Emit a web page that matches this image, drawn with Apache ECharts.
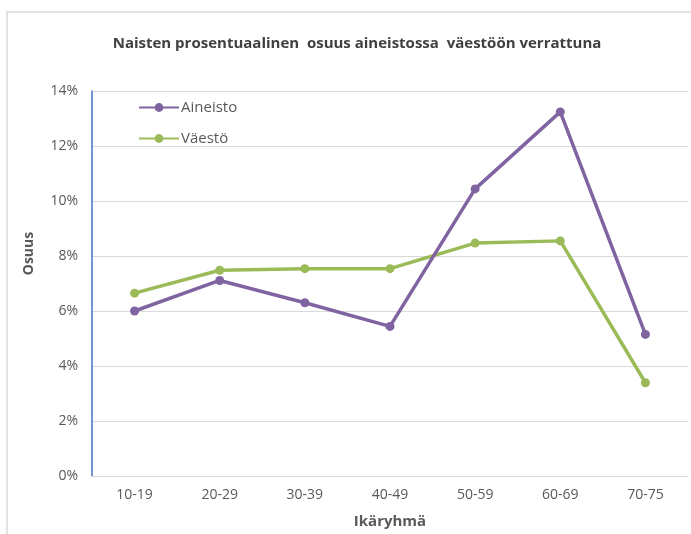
<!DOCTYPE html>
<html>
<head>
<meta charset="utf-8">
<script src="https://cdn.jsdelivr.net/npm/echarts@6/dist/echarts.min.js"></script>
<style>
  html, body { margin: 0; padding: 0; background: #ffffff; }
  #chart { width: 691px; height: 534px; }
</style>
</head>
<body>
<div id="chart"></div>
<script>
// Age groups and shares (%) of women: study material vs. population
var ageGroups = ['10-19', '20-29', '30-39', '40-49', '50-59', '60-69', '70-75'];
var aineisto = [6.0, 7.11, 6.3, 5.44, 10.44, 13.24, 5.15];
var vaesto = [6.65, 7.48, 7.54, 7.54, 8.47, 8.55, 3.39];
var yTicks = [0, 2, 4, 6, 8, 10, 12, 14];

var FONT = '"Open Sans", "Noto Sans", sans-serif';
var PURPLE = '#8064A2';
var GREEN = '#9BBB59';

var chart = echarts.init(document.getElementById('chart'), null, { renderer: 'canvas' });

chart.setOption({
  backgroundColor: '#ffffff',
  animation: false,
  textStyle: { fontFamily: FONT },
  graphic: [
    {
      type: 'rect',
      shape: { x: 7, y: 12, width: 800, height: 700 },
      style: { fill: 'none', stroke: '#D9D9D9', lineWidth: 1.5 },
      silent: true
    }
  ],
  title: {
    text: 'Naisten prosentuaalinen  osuus aineistossa  väestöön verrattuna',
    left: 352,
    textAlign: 'center',
    top: 31,
    textStyle: { fontFamily: FONT, fontSize: 15, fontWeight: 'bold', color: '#404040' }
  },
  legend: {
    orient: 'vertical',
    left: 133,
    top: 95,
    itemWidth: 40,
    itemHeight: 11,
    itemGap: 16,
    textStyle: { fontFamily: FONT, fontSize: 15, color: '#595959', padding: [0, 0, 0, -3] },
    data: ['Aineisto', 'Väestö']
  },
  grid: { left: 92, right: 3, top: 91, bottom: 56, containLabel: false },
  xAxis: {
    type: 'category',
    data: ageGroups,
    boundaryGap: true,
    name: 'Ikäryhmä',
    nameLocation: 'middle',
    nameGap: 38,
    nameTextStyle: { fontFamily: FONT, fontSize: 15, fontWeight: 'bold', color: '#595959' },
    axisLine: { show: true, lineStyle: { color: '#D9D9D9', width: 1 } },
    axisTick: { show: false },
    axisLabel: { fontFamily: FONT, fontSize: 14, color: '#595959', margin: 12 }
  },
  yAxis: {
    type: 'value',
    min: yTicks[0],
    max: yTicks[yTicks.length - 1],
    interval: 2,
    name: 'Osuus',
    nameLocation: 'middle',
    nameGap: 56,
    nameTextStyle: { fontFamily: FONT, fontSize: 14, fontWeight: 'bold', color: '#595959', padding: [0, 0, 0, 60] },
    axisLine: { show: true, lineStyle: { color: '#4472C4', width: 1.5 } },
    axisTick: { show: false },
    axisLabel: { fontFamily: FONT, fontSize: 14, color: '#595959', margin: 14, formatter: '{value}%' },
    splitLine: { show: true, lineStyle: { color: '#D9D9D9', width: 1 } }
  },
  series: [
    {
      name: 'Aineisto',
      type: 'line',
      data: aineisto,
      symbol: 'circle',
      symbolSize: 9,
      lineStyle: { color: PURPLE, width: 3.5 },
      itemStyle: { color: PURPLE },
      z: 3
    },
    {
      name: 'Väestö',
      type: 'line',
      data: vaesto,
      symbol: 'circle',
      symbolSize: 9,
      lineStyle: { color: GREEN, width: 3.5 },
      itemStyle: { color: GREEN },
      z: 2
    }
  ]
});
</script>
</body>
</html>
